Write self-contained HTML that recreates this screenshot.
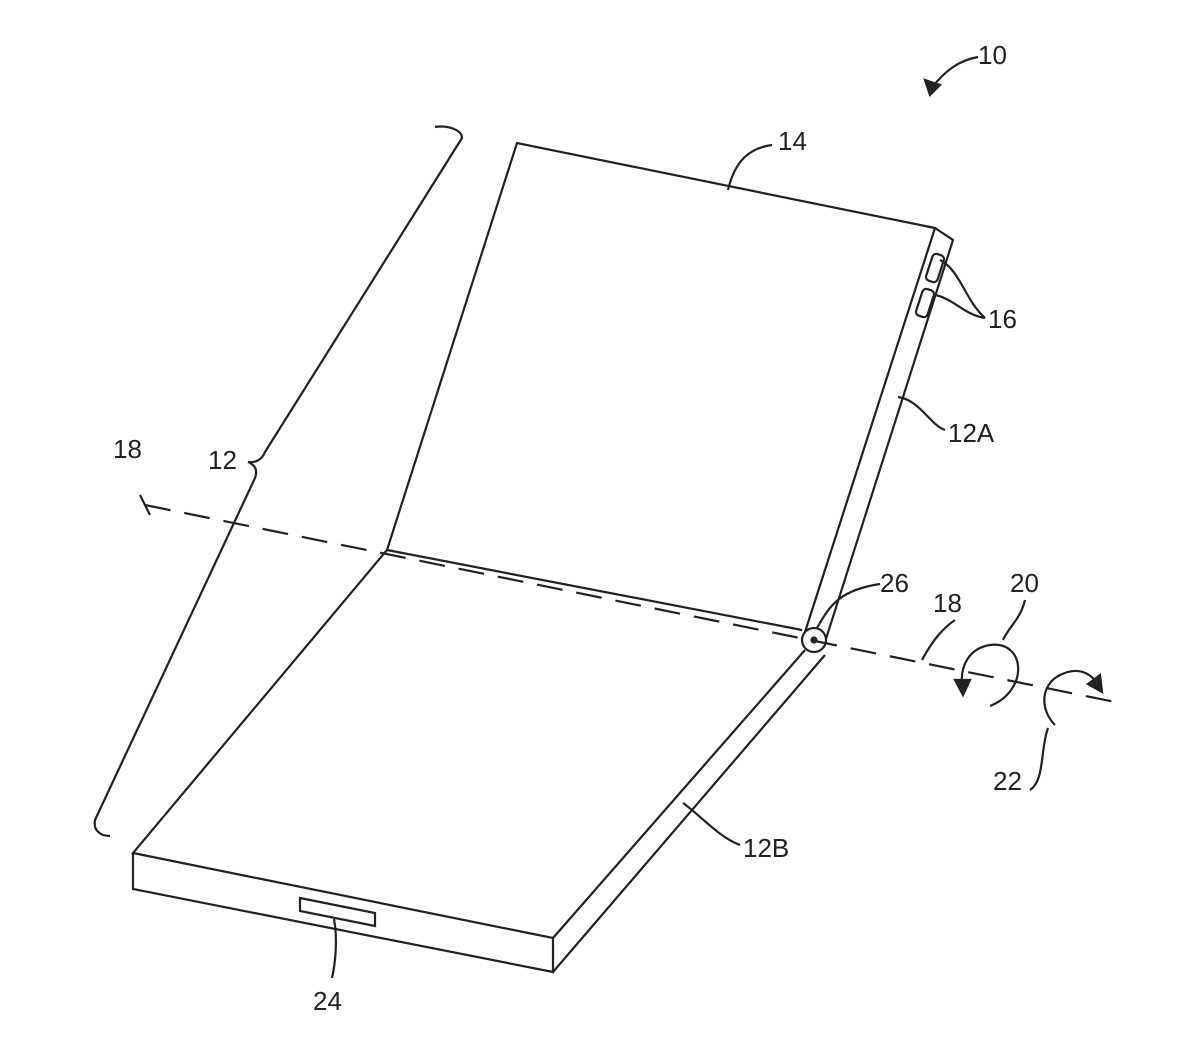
<!DOCTYPE html>
<html><head><style>body{margin:0;background:#fff}svg{display:block}text{font-family:"Liberation Sans",sans-serif;font-size:26px;fill:#222}</style></head><body>
<svg width="1200" height="1039" viewBox="0 0 1200 1039" fill="none" stroke="#222" stroke-width="2.2">
<path d="M387,550 L517,143 L935,228 L805,632"/>
<path d="M935,228 L953,240 L825,642"/>
<path d="M387,550 L133,853 L553,938 L805,650"/>
<path d="M133,853 L133,889 L553,972 L553,938"/>
<path d="M553,972 L825,655"/>
<path d="M387,550 L802,630"/>
<circle cx="814" cy="640" r="12" fill="#fff"/>
<circle cx="814" cy="640" r="2.5" fill="#222"/>
<path d="M300,898 L375,913 L375,926 L300,911 Z"/>
<rect x="929" y="254" width="12" height="28" rx="4" transform="rotate(18 935 268)"/>
<rect x="919" y="289" width="12" height="28" rx="4" transform="rotate(18 925 303)"/>
<path d="M145,505 L1120,703" stroke-dasharray="26,14"/>
<path d="M140,495 L150,515" />
<path d="M990,706 C1030,690 1025,640 990,645 C970,648 960,665 962,685"/>
<path d="M955,680 L963,695 L970,680 Z" fill="#222"/>
<path d="M1055,725 C1040,710 1040,685 1060,675 C1080,665 1095,675 1100,690"/>
<path d="M1088,684 L1102,692 L1100,675 Z" fill="#222"/>
<path d="M435,127 C448,125 462,130 462,138 L265,452 C262,460 255,463 248,462 C255,465 258,470 255,478 L95,820 C93,830 100,836 110,836"/>
<path d="M728,190 C735,160 750,148 772,145"/>
<path d="M940,260 C960,270 965,300 985,318 M936,295 C955,300 965,315 985,318"/>
<path d="M898,397 C920,400 930,425 945,430"/>
<path d="M683,803 C700,815 720,838 740,845"/>
<path d="M817,628 C830,605 840,590 880,584"/>
<path d="M922,660 C930,645 940,630 955,620"/>
<path d="M1003,640 C1010,625 1020,620 1025,600"/>
<path d="M1048,728 C1040,750 1045,780 1030,790"/>
<path d="M334,919 C338,940 335,965 332,978"/>
<path d="M930,90 C945,70 960,60 978,57"/>
<path d="M925,80 L930,95 L940,85 Z" fill="#222"/>
</svg>
<div style="position:absolute;left:0;top:0">
<svg width="1200" height="1039">
<text x="978" y="64">10</text>
<text x="778" y="150">14</text>
<text x="988" y="328">16</text>
<text x="948" y="442">12A</text>
<text x="208" y="469">12</text>
<text x="113" y="458">18</text>
<text x="880" y="592">26</text>
<text x="933" y="612">18</text>
<text x="1010" y="592">20</text>
<text x="993" y="790">22</text>
<text x="743" y="857">12B</text>
<text x="313" y="1010">24</text>
</svg></div>
</body></html>
